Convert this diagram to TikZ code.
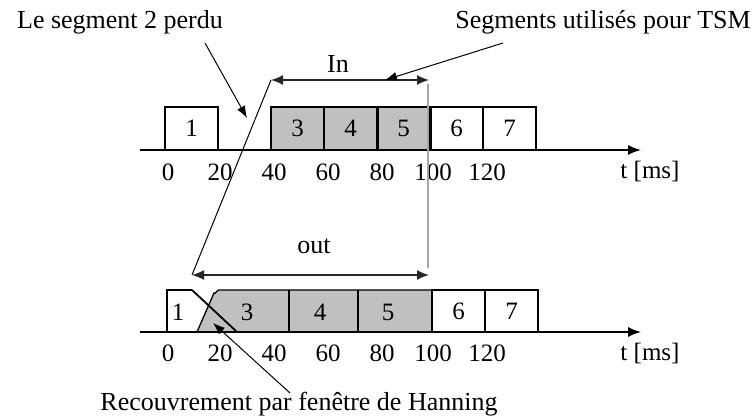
\documentclass[tikz,border=0pt]{standalone}
\usepackage{fontspec}
\setmainfont{Liberation Serif}
\usetikzlibrary{arrows.meta}
\definecolor{segfill}{RGB}{192,192,192}
\definecolor{guide}{RGB}{165,165,165}
\begin{document}
\begin{tikzpicture}[x=1pt,y=-1pt,
  lbl/.style={font=\fontsize{26}{30}\selectfont, inner sep=0pt},
  num/.style={font=\fontsize{25}{30}\selectfont, inner sep=0pt},
  segbox/.style={draw, line width=1.3pt, minimum height=43pt, minimum width=53pt,
     inner sep=0pt, outer sep=0pt, anchor=south west, font=\fontsize{25}{30}\selectfont},
  lost/.style={segbox, fill=segfill},
  axis/.style={line width=1.5pt, -{Latex[length=13pt,width=10pt]}},
  span/.style={line width=1.5pt, black!85, {Latex[length=12pt,width=10pt]}-{Latex[length=12pt,width=10pt]}},
  pointer/.style={line width=1pt, -{Latex[length=12pt,width=9pt]}},
  thin/.style={line width=1pt},
  thick divider/.style={line width=3pt}
]
\useasboundingbox (0,0) rectangle (752,419);

% ---------------- top row ----------------
\node[segbox] (t1) at (165,150) {1};
\node[lost]   (t3) at (271,150) {3};
\node[lost]   (t4) at (324,150) {4};
\node[lost]   (t5) at (377,150) {5};
\node[segbox] (t6) at (430,150) {6};
\node[segbox] (t7) at (483,150) {7};
\draw[thick divider] (t4.north east) -- (t4.south east);
\draw[thick divider] (t5.north east) -- (t5.south east);

\coordinate (ta0) at (140,150);
\coordinate (ta1) at (641,150);
\draw[axis] (ta0) -- (ta1);

\foreach \x/\t [count=\i] in {168/0,220/20,274/40,328/60,382/80,433/100,487/120}
  \node[num] (tt\i) at (\x,172) {\t};
\node[num] (tunit1) at (650,172) {t [ms]};

% ---------------- bottom row ----------------
\coordinate (b1a) at (167,332);
\coordinate (b1b) at (167,290);
\coordinate (b1c) at (192,290);
\coordinate (b1d) at (237,332);
\coordinate (g1) at (197,332);
\coordinate (g2) at (214,293);
\coordinate (g3) at (219,290);
\coordinate (g4) at (432,290);
\coordinate (g5) at (432,332);
\coordinate (d34t) at (289,290);
\coordinate (d34b) at (289,332);
\coordinate (d45t) at (358,290);
\coordinate (d45b) at (358,332);

\filldraw[fill=segfill, line width=1.3pt] (g1) -- (g2) to[out=-60,in=180] (g3) -- (g4) -- (g5) -- cycle;
\draw[line width=1.3pt] (d34t) -- (d34b);
\draw[line width=1.3pt] (d45t) -- (d45b);
\draw[line width=1.3pt] (b1a) -- (b1b) -- (b1c);
\draw[line width=1.8pt] (b1c) -- (b1d);

\node[num] (bl1) at (178,312) {1};
\node[num] (bl3) at (247,312) {3};
\node[num] (bl4) at (320,312) {4};
\node[num] (bl5) at (388,312) {5};
\node[segbox, minimum height=42pt] (b6) at (432,332) {6};
\node[segbox, minimum height=42pt] (b7) at (485,332) {7};

\coordinate (ba0) at (140,332);
\coordinate (ba1) at (641,332);
\draw[axis] (ba0) -- (ba1);

\foreach \x/\t [count=\i] in {168/0,220/20,274/40,328/60,382/80,433/100,487/120}
  \node[num] (bt\i) at (\x,353) {\t};
\node[num] (tunit2) at (650,353) {t [ms]};

% ---------------- spans ----------------
\coordinate (inL) at (271,80);
\coordinate (inR) at (429,80);
\coordinate (outL) at (192,275);
\coordinate (outR) at (429,275);
\coordinate (guideTop) at (428,84);
\coordinate (guideBot) at (428,268);

\draw[guide, line width=2pt] (guideTop) -- (guideBot);
\draw[span] (inL) -- (inR);
\draw[span] (outL) -- (outR);
\draw[thin] (inL) -- (outL);
\node[lbl] (inlbl) at (338,64) {In};
\node[lbl] (outlbl) at (314,246) {out};

% ---------------- annotations ----------------
\node[lbl] (lost2) at (120,22) {Le segment 2 perdu};
\node[lbl] (tsm) at (603,22) {Segments utilisés pour TSM};
\node[lbl] (hann) at (299,404) {Recouvrement par fenêtre de Hanning};

\coordinate (p1s) at (205,43);
\coordinate (p1e) at (247,118);
\coordinate (p2s) at (503,43);
\coordinate (p2e) at (385,80);
\coordinate (p3s) at (290,393);
\coordinate (p3e) at (213,323);
\draw[pointer] (p1s) -- (p1e);
\draw[pointer] (p2s) -- (p2e);
\draw[pointer] (p3s) -- (p3e);
\end{tikzpicture}
\end{document}
